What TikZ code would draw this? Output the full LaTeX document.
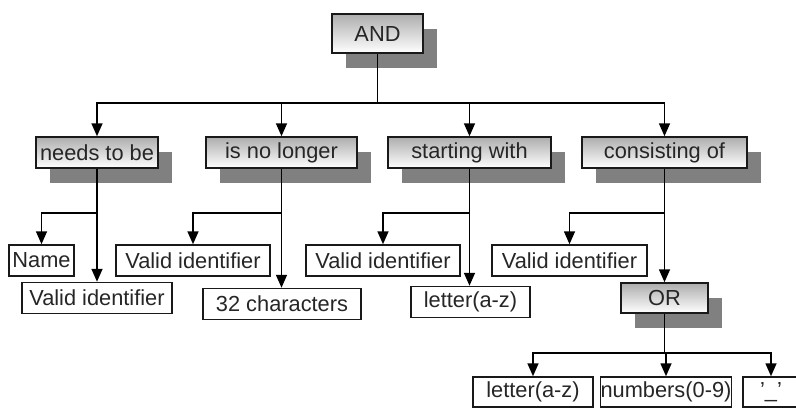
\documentclass[tikz,border=0pt]{standalone}
\usepackage{fontspec}
\setmainfont{Liberation Sans}
\usetikzlibrary{arrows.meta,shadows}

\tikzset{
  box/.style={draw=black!90, line width=1.5pt, inner sep=0pt,
    minimum height=31pt, text=black!85,
    font=\fontsize{21.8}{24}\selectfont},
  leaf/.style={box, fill=white},
  gate/.style={box,
    top color=black!32, bottom color=white,
    drop shadow={shadow xshift=14pt, shadow yshift=-15pt,
      fill=black!50, opacity=1}},
  link/.style={line width=1.6pt, draw=black},
  arr/.style={link, -{Triangle[width=11pt,length=13pt]}}
}

\begin{document}
\begin{tikzpicture}[x=1pt,y=-1pt]
\useasboundingbox (0,0) rectangle (796,408);

% top operator
\node[gate, minimum width=91pt, minimum height=39pt] (and) at (377.5,33.5) {AND};

% second row
\node[gate, minimum width=122pt] (needs) at (97,152.5)    {needs to be};
\node[gate, minimum width=151pt] (nolong) at (281.5,152.5) {is no longer};
\node[gate, minimum width=163pt] (start) at (469.5,152.5) {starting with};
\node[gate, minimum width=165pt] (consist) at (664.5,152.5) {consisting of};

% leaves of each clause
\node[leaf, minimum width=65pt]  (name) at (41.5,260.5) {Name};
\node[leaf, minimum width=150pt] (vi1)  at (97,298)     {Valid identifier};
\node[leaf, minimum width=154pt] (vi2)  at (193,260.5)  {Valid identifier};
\node[leaf, minimum width=158pt] (chars) at (282,304)   {32 characters};
\node[leaf, minimum width=154pt] (vi3)  at (383,260.5)  {Valid identifier};
\node[leaf, minimum width=119pt] (let1) at (470.5,302)  {letter(a-z)};
\node[leaf, minimum width=155pt] (vi4)  at (569.5,260.5) {Valid identifier};
\node[gate, minimum width=87pt, minimum height=30pt] (or) at (664.5,298) {OR};

% alternatives under OR
\node[leaf, minimum width=120pt, minimum height=30pt] (let2) at (533,392)  {letter(a-z)};
\node[leaf, minimum width=130pt, minimum height=30pt] (nums) at (666,392)  {numbers(0-9)};
\node[leaf, minimum width=56pt,  minimum height=30pt] (uscore) at (771,392) {'\_'};

% junction points
\coordinate (jand) at (377.5,103);
\coordinate (jneeds) at (97,213);
\coordinate (jnolong) at (281.5,213);
\coordinate (jstart) at (469.5,213);
\coordinate (jconsist) at (664.5,213);
\coordinate (jor) at (664.5,353);

% AND fan-out
\draw[link] (and.south) -- (jand);
\draw[arr] (jand) -| (needs.north);
\draw[arr] (jand) -| (nolong.north);
\draw[arr] (jand) -| (start.north);
\draw[arr] (jand) -| (consist.north);

% needs to be
\draw[arr] (needs.south) -- (vi1.north);
\draw[arr] (jneeds) -| (name.north);

% is no longer
\draw[arr] (nolong.south) -- (nolong.south |- chars.north);
\draw[arr] (jnolong) -| (vi2.north);

% starting with
\draw[arr] (start.south) -- (start.south |- let1.north);
\draw[arr] (jstart) -| (vi3.north);

% consisting of
\draw[arr] (consist.south) -- (or.north);
\draw[arr] (jconsist) -| (vi4.north);

% OR fan-out
\draw[link] (or.south) -- (jor);
\draw[arr] (jor) -| (let2.north);
\draw[arr] (jor) -| (nums.north);
\draw[arr] (jor) -| (uscore.north);
\end{tikzpicture}
\end{document}
